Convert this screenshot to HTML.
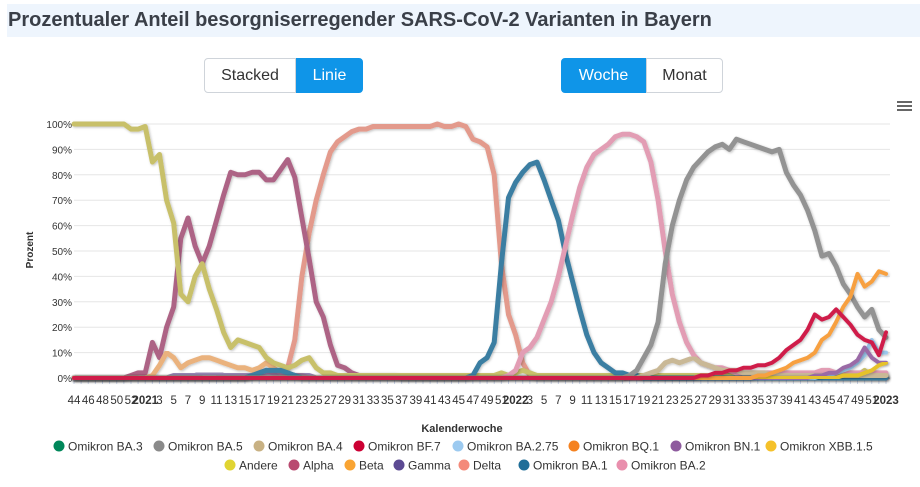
<!DOCTYPE html>
<html><head><meta charset="utf-8">
<style>
body{margin:0;width:920px;height:487px;background:#fff;font-family:"Liberation Sans",sans-serif;overflow:hidden;position:relative}
#title{position:absolute;left:7px;top:4px;width:913px;height:33px;background:#eef5fd;color:#3a3f48;font-weight:bold;font-size:20px;line-height:33px;padding-left:1px;box-sizing:border-box;white-space:nowrap}
.btn{position:absolute;top:58px;height:35px;box-sizing:border-box;font-size:16px;line-height:33px;text-align:center;border:1px solid #cfd4da;color:#333;background:#fff}
.on{background:#0f95e8;border-color:#0f95e8;color:#fff}
svg{position:absolute;left:0;top:0}
</style></head><body>
<div id="title">Prozentualer Anteil besorgniserregender SARS-CoV-2 Varianten in Bayern</div>
<div class="btn" style="left:204px;width:92px;border-radius:4px 0 0 4px">Stacked</div>
<div class="btn on" style="left:296px;width:67px;border-radius:0 4px 4px 0">Linie</div>
<div class="btn on" style="left:561px;width:85px;border-radius:4px 0 0 4px">Woche</div>
<div class="btn" style="left:646px;width:77px;border-radius:0 4px 4px 0">Monat</div>
<svg id="chart" width="920" height="487">
<defs><filter id="sh" x="-5%" y="-5%" width="110%" height="110%"><feDropShadow dx="1" dy="1" stdDeviation="1.2" flood-opacity="0.25"/></filter></defs>
<g><rect x="897" y="101" width="15" height="2" fill="#666"/><rect x="897" y="105" width="15" height="2" fill="#666"/><rect x="897" y="109" width="15" height="2" fill="#666"/></g>
<text x="33" y="250" transform="rotate(-90 33 250)" text-anchor="middle" font-size="10" font-weight="bold" fill="#333">Prozent</text>
<text x="462" y="432" text-anchor="middle" font-size="11" font-weight="bold" fill="#333">Kalenderwoche</text>
<g id="grid"></g><g id="xt"></g><g id="lines"></g><g id="legend"></g>
</svg>
<script>
const xLabels=["44","46","48","50","52","2021","3","5","7","9","11","13","15","17","19","21","23","25","27","29","31","33","35","37","39","41","43","45","47","49","51","2022","3","5","7","9","11","13","15","17","19","21","23","25","27","29","31","33","35","37","39","41","43","45","47","49","51","2023"];
const yTicks=[0,10,20,30,40,50,60,70,80,90,100];
const seriesNames=["Omikron BA.3","Omikron BA.5","Omikron BA.4","Omikron BF.7","Omikron BA.2.75","Omikron BQ.1","Omikron BN.1","Omikron XBB.1.5","Andere","Alpha","Beta","Gamma","Delta","Omikron BA.1","Omikron BA.2"];
const ba3=[0,0,0,0,0,0,0,0,0,0, 0,0,0,0,0,0,0,0,0,0, 0,0,0,0,0,0,0,0,0,0, 0,0,0,0,0,0,0,0,0,0, 0,0,0,0,0,0,0,0,0,0, 0,0,0,0,0,0,0,0,0,0, 0,0,0,0,0,0,0,0,0,0, 0,0,0,0,0,0,0,0,0,0, 0,0,0,0,0,0,0,0,0,0, 0,0,0,0,0,0,0,0,0,0, 0,0,0,0,0,0,0,0,0,0, 0,0,0,0,0];
const ba5=[0,0,0,0,0,0,0,0,0,0, 0,0,0,0,0,0,0,0,0,0, 0,0,0,0,0,0,0,0,0,0, 0,0,0,0,0,0,0,0,0,0, 0,0,0,0,0,0,0,0,0,0, 0,0,0,0,0,0,0,0,0,0, 0,0,0,0,0,0,0,0,0,0, 0,0,0,0,0,0,0,0,1,3, 8,13,22,45,60,70,78,83,86,89, 91,92,90,94,93,92,91,90,89,90, 81,76,72,66,58,48,49,44,37,33, 28,24,27,19,16];
const ba4=[0,0,0,0,0,0,0,0,0,0, 0,0,0,0,0,0,0,0,0,0, 0,0,0,0,0,0,0,0,0,0, 0,0,0,0,0,0,0,0,0,0, 0,0,0,0,0,0,0,0,0,0, 0,0,0,0,0,0,0,0,0,0, 0,0,0,0,0,0,0,0,0,0, 0,0,0,0,0,0,0,0,0,0, 1,2,3,6,7,6,7,8,6,5, 4,3,3,3,2,2,2,2,1,1, 1,1,1,1,1,1,1,1,1,1, 1,1,1,1,1];
const bf7=[0,0,0,0,0,0,0,0,0,0, 0,0,0,0,0,0,0,0,0,0, 0,0,0,0,0,0,0,0,0,0, 0,0,0,0,0,0,0,0,0,0, 0,0,0,0,0,0,0,0,0,0, 0,0,0,0,0,0,0,0,0,0, 0,0,0,0,0,0,0,0,0,0, 0,0,0,0,0,0,0,0,0,0, 0,0,0,0,0,0,0,0,1,1, 2,2,3,3,4,4,5,5,6,8, 11,13,15,19,25,23,24,27,24,21, 17,15,14,9,18];
const ba275=[0,0,0,0,0,0,0,0,0,0, 0,0,0,0,0,0,0,0,0,0, 0,0,0,0,0,0,0,0,0,0, 0,0,0,0,0,0,0,0,0,0, 0,0,0,0,0,0,0,0,0,0, 0,0,0,0,0,0,0,0,0,0, 0,0,0,0,0,0,0,0,0,0, 0,0,0,0,0,0,0,0,0,0, 0,0,0,0,0,0,0,0,0,0, 0,0,0,0,0,0,0,0,0,0, 0,0,0,0,0,1,1,2,3,4, 6,9,15,10,10];
const bq1=[0,0,0,0,0,0,0,0,0,0, 0,0,0,0,0,0,0,0,0,0, 0,0,0,0,0,0,0,0,0,0, 0,0,0,0,0,0,0,0,0,0, 0,0,0,0,0,0,0,0,0,0, 0,0,0,0,0,0,0,0,0,0, 0,0,0,0,0,0,0,0,0,0, 0,0,0,0,0,0,0,0,0,0, 0,0,0,0,0,0,0,0,0,0, 0,0,0,0,0,0,1,1,2,3, 4,6,7,8,10,15,17,22,28,32, 41,36,38,42,41];
const bn1=[0,0,0,0,0,0,0,0,0,0, 0,0,0,0,0,0,0,0,0,0, 0,0,0,0,0,0,0,0,0,0, 0,0,0,0,0,0,0,0,0,0, 0,0,0,0,0,0,0,0,0,0, 0,0,0,0,0,0,0,0,0,0, 0,0,0,0,0,0,0,0,0,0, 0,0,0,0,0,0,0,0,0,0, 0,0,0,0,0,0,0,0,0,0, 0,0,0,0,0,0,0,0,0,0, 0,0,0,0,1,1,2,2,4,5, 7,12,8,6,6];
const xbb=[0,0,0,0,0,0,0,0,0,0, 0,0,0,0,0,0,0,0,0,0, 0,0,0,0,0,0,0,0,0,0, 0,0,0,0,0,0,0,0,0,0, 0,0,0,0,0,0,0,0,0,0, 0,0,0,0,0,0,0,0,0,0, 0,0,0,0,0,0,0,0,0,0, 0,0,0,0,0,0,0,0,0,0, 0,0,0,0,0,0,0,0,0,0, 0,0,0,0,0,0,0,0,0,0, 0,0,0,0,0,0,0,0,1,1, 1,2,3,5,6];
const andere=[100,100,100,100,100,100,100,100,98,98, 99,85,88,70,61,33,30,40,45,35, 27,18,12,15,14,13,12,8,6,5, 4,5,7,8,4,2,2,1,1,1, 1,1,1,1,1,1,1,1,1,1, 1,1,1,1,1,1,1,1,1,1, 2,1,2,3,2,1,1,1,1,1, 1,1,1,1,1,1,1,1,1,1, 1,1,1,1,1,1,1,1,1,1, 1,1,1,1,1,1,1,1,1,1, 1,1,1,1,1,1,1,1,1,1, 1,3,1,1,1];
const alpha=[0,0,0,0,0,0,0,0,1,2, 2,14,8,20,28,55,63,52,45,52, 62,72,81,80,80,81,81,78,78,82, 86,79,63,47,30,24,13,5,4,2, 1,1,1,1,1,1,0,0,0,0, 0,0,0,0,0,0,0,0,0,0, 0,0,0,0,0,0,0,0,0,0, 0,0,0,0,0,0,0,0,0,0, 0,0,0,0,0,0,0,0,0,0, 0,0,0,0,0,0,0,0,0,0, 0,0,0,0,0,0,0,0,0,0, 0,0,0,0,0];
const beta=[0,0,0,0,0,0,0,0,0,0, 0,1,5,10,8,4,6,7,8,8, 7,6,5,4,4,3,4,6,4,2, 1,1,1,0,0,0,0,0,0,0, 0,0,0,0,0,0,0,0,0,0, 0,0,0,0,0,0,0,0,0,0, 0,0,0,0,0,0,0,0,0,0, 0,0,0,0,0,0,0,0,0,0, 0,0,0,0,0,0,0,0,0,0, 0,0,0,0,0,0,0,0,0,0, 0,0,0,0,0,0,0,0,0,0, 0,0,0,0,0];
const gamma=[0,0,0,0,0,0,0,0,0,0, 0,0,0,0,1,1,1,1,2,2, 2,1,1,1,1,1,2,2,2,2, 2,1,1,1,0,0,0,0,0,0, 0,0,0,0,0,0,0,0,0,0, 0,0,0,0,0,0,0,0,0,0, 0,0,0,0,0,0,0,0,0,0, 0,0,0,0,0,0,0,0,0,0, 0,0,0,0,0,0,0,0,0,0, 0,0,0,0,0,0,0,0,0,0, 0,0,0,0,0,0,0,0,0,0, 0,0,0,0,0];
const delta=[0,0,0,0,0,0,0,0,0,0, 0,0,0,0,0,0,0,0,0,0, 0,0,0,0,0,1,2,3,2,2, 4,15,40,57,70,80,89,93,95,97, 98,98,99,99,99,99,99,99,99,99, 99,100,99,99,100,99,94,93,91,80, 45,25,17,6,1,0,0,0,0,0, 0,0,0,0,0,0,0,0,0,0, 0,0,0,0,0,0,0,0,0,0, 0,0,0,0,0,0,0,0,0,0, 0,0,0,0,0,0,0,0,0,0, 0,0,0,0,0];
const ba1=[0,0,0,0,0,0,0,0,0,0, 0,0,0,0,0,0,0,0,0,0, 0,0,0,0,0,1,2,3,3,3, 2,1,0,0,0,0,0,0,0,0, 0,0,0,0,0,0,0,0,0,0, 0,0,0,0,0,0,1,6,8,14, 45,71,77,81,84,85,78,70,62,49, 38,27,17,10,6,4,2,2,1,1, 0,0,0,0,0,0,0,0,0,0, 0,0,0,0,0,0,0,0,0,0, 0,0,0,0,0,0,0,0,0,0, 0,0,0,0,0];
const ba2=[0,0,0,0,0,0,0,0,0,0, 0,0,0,0,0,0,0,0,0,0, 0,0,0,0,0,0,0,0,0,0, 0,0,0,0,0,0,0,0,0,0, 0,0,0,0,0,0,0,0,0,0, 0,0,0,0,0,0,0,0,0,0, 0,1,3,10,12,16,23,30,40,52, 64,75,83,88,90,92,95,96,96,95, 93,85,70,50,33,22,14,9,6,5, 4,4,3,2,2,2,2,2,2,2, 2,2,2,2,2,3,3,2,2,2, 2,2,2,2,2];

const NS="http://www.w3.org/2000/svg";
const X0=74,X1=886,Y0=378,Y1=124,N=andere.length;
function xs(i){return X0+i*(X1-X0)/(N-1);}
function ys(v){return Y0-(v/100)*(Y0-Y1);}
function mk(tag,attrs,parent){const e=document.createElementNS(NS,tag);for(const k in attrs)e.setAttribute(k,attrs[k]);parent.appendChild(e);return e;}
const grid=document.getElementById('grid');
yTicks.forEach(t=>{
  const l=mk('line',{x1:X0,x2:X1+4,y1:ys(t),y2:ys(t),stroke:'#e6e6e6','stroke-width':1},grid);
  
  
  const tx=mk('text',{x:72,y:ys(t)+4,'text-anchor':'end','font-size':10,fill:'#333'},grid);
  tx.textContent=t+'%';
  
  
});
const xt=document.getElementById('xt');
mk('line',{x1:X0-2,x2:X1+4,y1:Y0+0.5,y2:Y0+0.5,stroke:'#ccd6eb'},xt);
for(let i=0;i<N;i++){mk('line',{x1:xs(i),x2:xs(i),y1:Y0,y2:Y0+6,stroke:'#ccd6eb'},xt);}
xLabels.forEach((lab,k)=>{
  const bold=lab.length===4;
  const t=mk('text',{x:xs(k*2),y:404,'text-anchor':'middle','font-size':11.5,fill:'#333','font-weight':bold?'bold':'normal'},xt);
  t.textContent=lab;
  
  
});
const plotted=[
 [ba3,'#00875a',1,4],[delta,'#e39a8c',1,5],[alpha,'#ad6485',1,5],[beta,'#eab27d',1,5],[gamma,'#7c6aa0',0.8,5],[andere,'#c8c06a',1,5],
 [ba1,'#3a7ea2',1,5],[ba2,'#e29db4',1,5],[ba5,'#939393',1,5],[ba4,'#c9b896',1,5],
 [ba275,'#9cc8ec',1,4],[bn1,'#9a6aa6',1,4],[xbb,'#e6c22a',1,4],[bq1,'#f7a040',1,4],[bf7,'#cf1d4a',1,4]];
const names=['ba3','delta','alpha','beta','gamma','andere','ba1','ba2','ba5','ba4','ba275','bn1','xbb15','bq1','bf7'];
const lg=document.getElementById('lines');
plotted.forEach((s,k)=>{
  const d=s[0].map((v,i)=>(i?'L':'M')+xs(i).toFixed(1)+' '+ys(v).toFixed(1)).join(' ');
  const p=mk('path',{d:d,fill:'none',stroke:s[1],'stroke-width':s[3],'stroke-linejoin':'round','stroke-linecap':'round',opacity:s[2],filter:'url(#sh)'},lg);
  
  
});
const legendColors=['#00875a','#8a8a8a','#c8b183','#cc0033','#9ccaf0','#f58220','#8e5b9e','#f5c12a','#e0d432','#b94a70','#f9a433','#5c4a93','#f48a7a','#1f6e98','#e98fad'];
const legendX=[59,159,259,359,458,574,676,771,230,294,350,399,464,524,622];
const lgd=document.getElementById('legend');
seriesNames.forEach((n,k)=>{
  const y=k<8?446:465;
  const g=mk('g',{},lgd);
  
  
  mk('circle',{cx:legendX[k],cy:y,r:5.5,fill:legendColors[k]},g);
  const t=mk('text',{x:legendX[k]+9,y:y+4.5,'font-size':12,fill:'#333'},g);
  t.textContent=n;
});
</script>
</body></html>
